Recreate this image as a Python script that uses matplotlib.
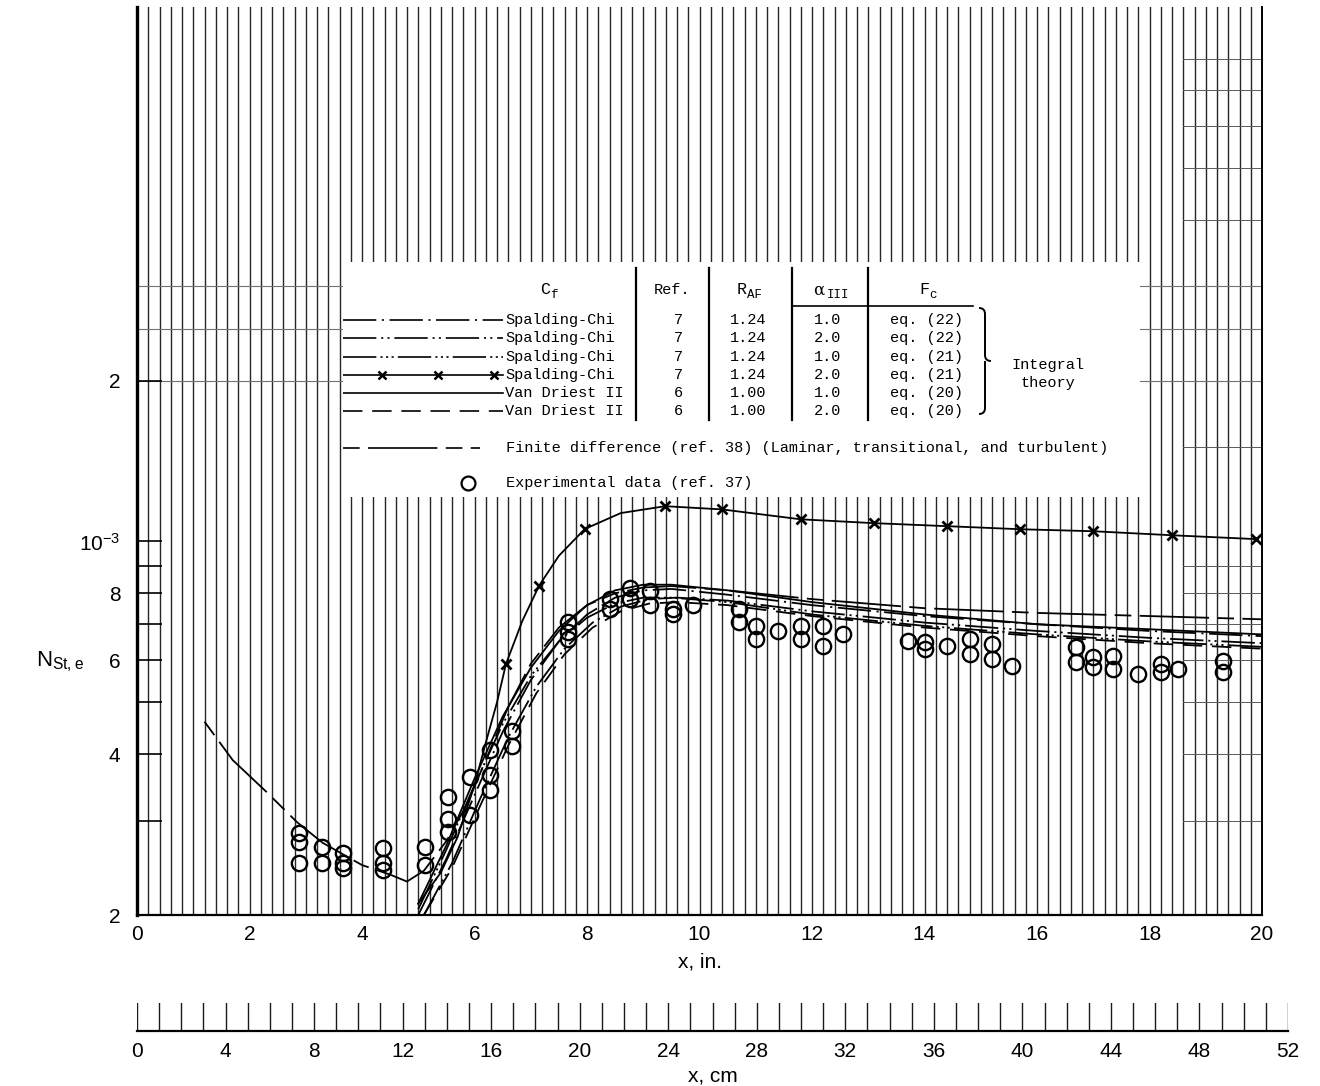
import numpy as np
import matplotlib
matplotlib.use("Agg")
import matplotlib.pyplot as plt
from matplotlib.path import Path
from matplotlib.patches import PathPatch
from matplotlib.ticker import FixedLocator, FixedFormatter, NullFormatter

plt.rcParams['font.family'] = ['Liberation Sans', 'DejaVu Sans']
plt.rcParams['lines.scale_dashes'] = False

# Stanton number vs distance, all values in units of 1e-4
fd_x = [1.2, 1.7, 2.3, 2.85, 3.3, 4.0, 4.5, 4.8, 5.1, 5.5, 5.85, 6.2, 6.6, 7.0, 7.5,
        8.0, 8.5, 9.0, 9.5, 10.5, 12, 14, 16, 18, 20]
fd_y = [4.6, 3.9, 3.4, 2.98, 2.73, 2.48, 2.38, 2.31, 2.42, 2.75, 3.2, 3.9, 4.9, 5.9, 6.9,
        7.6, 8.0, 8.2, 8.25, 8.1, 7.8, 7.5, 7.35, 7.25, 7.15]

sc22a1_x = [5.0, 5.5, 6.0, 6.5, 7.0, 7.5, 8.0, 8.5, 9.0, 9.5, 10.5, 12, 14, 16, 18, 20]
sc22a1_y = [2.0, 2.55, 3.35, 4.4, 5.5, 6.5, 7.3, 7.85, 8.1, 8.15, 7.95, 7.6, 7.25, 7.0, 6.8, 6.65]

sc22a2_x = [5.1, 5.6, 6.1, 6.6, 7.1, 7.6, 8.1, 8.6, 9.1, 9.6, 10.5, 12, 14, 16, 18, 20]
sc22a2_y = [2.0, 2.5, 3.3, 4.3, 5.35, 6.3, 7.05, 7.55, 7.8, 7.85, 7.75, 7.4, 7.05, 6.8, 6.6, 6.45]

sc21a1_x = [5.0, 5.5, 6.0, 6.5, 7.0, 7.5, 8.0, 8.5, 9.0, 9.5, 10.5, 12, 14, 16, 18, 20]
sc21a1_y = [2.05, 2.65, 3.5, 4.55, 5.6, 6.5, 7.2, 7.65, 7.85, 7.85, 7.7, 7.3, 6.95, 6.7, 6.5, 6.35]

sc21a2_x = [5.0, 5.4, 5.7, 6.0, 6.2, 6.4, 6.56, 6.85, 7.15, 7.5, 7.96, 8.6, 9.39, 10.4, 11.8,
            13.1, 14.4, 15.7, 17.0, 18.4, 19.9]
sc21a2_y = [2.1, 2.4, 2.8, 3.5, 4.2, 5.0, 5.9, 7.1, 8.27, 9.4, 10.55, 11.3, 11.64, 11.48, 11.0,
            10.82, 10.68, 10.54, 10.45, 10.27, 10.1]
sc21a2_marks = [6, 8, 10, 12, 13, 14, 15, 16, 17, 18, 19, 20]

vd1_x = [5.0, 5.5, 6.0, 6.5, 7.0, 7.5, 8.0, 8.5, 9.0, 9.5, 10.5, 12, 14, 16, 18, 20]
vd1_y = [2.1, 2.7, 3.6, 4.7, 5.8, 6.8, 7.6, 8.1, 8.3, 8.3, 8.1, 7.7, 7.3, 7.0, 6.85, 6.7]

vd2_x = [5.1, 5.6, 6.1, 6.6, 7.1, 7.6, 8.1, 8.6, 9.1, 9.6, 10.5, 12, 14, 16, 18, 20]
vd2_y = [2.0, 2.45, 3.2, 4.15, 5.2, 6.15, 6.9, 7.4, 7.65, 7.7, 7.6, 7.25, 6.9, 6.65, 6.45, 6.3]

exp_x = [2.88, 2.88, 2.88, 3.29, 3.29, 3.66, 3.66, 3.66, 4.37, 4.37, 4.37, 5.12, 5.12,
         5.53, 5.53, 5.53, 5.92, 5.92, 6.28, 6.28, 6.28, 6.67, 6.67, 7.66, 7.66, 7.66,
         8.41, 8.41, 8.76, 8.76, 9.12, 9.12, 9.53, 9.53, 9.88, 10.7, 10.7, 11.0, 11.0,
         11.4, 11.8, 11.8, 12.2, 12.2, 12.55, 13.7, 14.0, 14.0, 14.4, 14.8, 14.8, 15.2,
         15.2, 15.55, 16.7, 16.7, 17.0, 17.0, 17.35, 17.35, 17.8, 18.2, 18.2, 18.5, 19.3, 19.3]
exp_y = [2.85, 2.74, 2.50, 2.68, 2.50, 2.61, 2.50, 2.45, 2.67, 2.50, 2.43, 2.68, 2.48,
         3.32, 3.02, 2.86, 3.62, 3.08, 4.08, 3.66, 3.43, 4.42, 4.14, 7.06, 6.78, 6.58,
         7.82, 7.49, 8.17, 7.82, 8.06, 7.59, 7.49, 7.33, 7.59, 7.49, 7.08, 6.96, 6.58,
         6.81, 6.96, 6.58, 6.96, 6.38, 6.72, 6.52, 6.49, 6.30, 6.38, 6.58, 6.16, 6.44,
         6.03, 5.85, 6.35, 5.95, 6.08, 5.83, 6.11, 5.78, 5.65, 5.90, 5.70, 5.78, 5.98, 5.70]

y_ticks = [2e-4, 4e-4, 6e-4, 8e-4, 1e-3, 2e-3]
y_labels = ['2', '4', '6', '8', r'$\mathregular{10^{-3}}$', '2']
x_ticks = list(range(0, 21, 2))
cm_ticks = list(range(0, 53, 4))

# legend table rows
cf_names = ['Spalding-Chi'] * 4 + ['Van Driest II'] * 2
refs = ['7', '7', '7', '7', '6', '6']
r_af = ['1.24', '1.24', '1.24', '1.24', '1.00', '1.00']
alpha3 = ['1.0', '2.0', '1.0', '2.0', '1.0', '2.0']
f_c = ['eq. (22)', 'eq. (22)', 'eq. (21)', 'eq. (21)', 'eq. (20)', 'eq. (20)']

dash_dot = (0, (24, 4, 1.5, 4))
dash_2dot = (0, (24, 3.5, 1.5, 3, 1.5, 3.5))
dash_3dot = (0, (24, 3, 1.5, 2.5, 1.5, 2.5, 1.5, 3))
dashed = (0, (14, 7))
fd_style = (0, (12, 6, 50, 6))

W, H = 1320, 1086


def px_rect(l, t, r, b):
    return [l / W, 1 - b / H, (r - l) / W, (b - t) / H]


def e4(v):
    return np.array(v) * 1e-4


fig = plt.figure(figsize=(W / 100, H / 100), dpi=100)
ax = fig.add_axes(px_rect(137, 7, 1262, 915))
ax.set_yscale('log')
ax.set_xlim(0, 20)
ax.set_ylim(2e-4, 1e-2)

# graph paper background
for xv in np.arange(0.2, 20, 0.2):
    ax.axvline(xv, color='k', alpha=0.85, lw=1.0, zorder=0)
for yv in [2e-3, 2.5e-3, 3e-3]:
    ax.axhline(yv, color='0.45', lw=0.8, zorder=0)
for yv in [3e-4, 4e-4, 5e-4, 6e-4, 7e-4, 8e-4, 9e-4, 1.5e-3, 4e-3, 5e-3, 6e-3, 7e-3, 8e-3]:
    ax.axhline(yv, xmin=0.93, xmax=1.0, color='0.35', lw=0.7, zorder=0)

lw = 1.3
ax.plot(fd_x, e4(fd_y), color='k', lw=lw, ls=fd_style, zorder=3)
ax.plot(sc22a1_x, e4(sc22a1_y), color='k', lw=lw, ls=dash_dot, zorder=3)
ax.plot(sc22a2_x, e4(sc22a2_y), color='k', lw=lw, ls=dash_2dot, zorder=3)
ax.plot(sc21a1_x, e4(sc21a1_y), color='k', lw=lw, ls=dash_3dot, zorder=3)
ax.plot(sc21a2_x, e4(sc21a2_y), color='k', lw=lw, marker='x', markevery=sc21a2_marks,
        ms=7, mew=2, zorder=3)
ax.plot(vd1_x, e4(vd1_y), color='k', lw=lw, zorder=3)
ax.plot(vd2_x, e4(vd2_y), color='k', lw=lw, ls=dashed, zorder=3)
ax.plot(exp_x, e4(exp_y), 'o', mfc='none', mec='k', ms=11, mew=1.7, zorder=4)

ax.yaxis.set_major_locator(FixedLocator(y_ticks))
ax.yaxis.set_major_formatter(FixedFormatter(y_labels))
ax.yaxis.set_minor_locator(FixedLocator([3e-4, 5e-4, 7e-4, 9e-4]))
ax.yaxis.set_minor_formatter(NullFormatter())
ax.tick_params(axis='y', which='both', direction='in', length=18, width=1.2,
               labelsize=15, pad=12)
ax.set_xticks(x_ticks)
ax.tick_params(axis='x', length=0, labelsize=15, pad=7)
ax.set_xlabel('x, in.', fontsize=15, labelpad=6)
ax.spines['top'].set_visible(False)
ax.spines['left'].set_linewidth(2.4)
ax.spines['bottom'].set_linewidth(1.6)
ax.spines['right'].set_linewidth(1.4)

fig.text(60 / W, 1 - 662 / H, r'$\mathregular{N_{St,e}}$', fontsize=16,
         ha='center', va='center')

# centimetre scale strip
ax2 = fig.add_axes(px_rect(137, 1003, 1288, 1031))
ax2.set_xlim(0, 52)
ax2.set_ylim(0, 1)
for xv in range(0, 53):
    ax2.axvline(xv, color='0.1', lw=1.0)
for s in ['top', 'left', 'right']:
    ax2.spines[s].set_visible(False)
ax2.spines['bottom'].set_linewidth(1.6)
ax2.set_yticks([])
ax2.set_xticks(cm_ticks)
ax2.tick_params(axis='x', length=0, labelsize=15, pad=8)
ax2.set_xlabel('x, cm', fontsize=15, labelpad=4)

# legend table
mono = ['Liberation Mono', 'DejaVu Sans Mono']
lg = fig.add_axes(px_rect(343, 262, 1140, 497), zorder=5)
lg.set_xlim(343, 1140)
lg.set_ylim(497, 262)
lg.set_facecolor('white')
lg.set_xticks([])
lg.set_yticks([])
for s in lg.spines.values():
    s.set_visible(False)

fs = 11


def header(xc, main, sub, w_main=9.2, family=mono):
    # main symbol with a lowered, smaller subscript
    w_sub = 7.0 * len(sub)
    x0 = xc - (w_main + w_sub) / 2
    lg.text(x0, 290, main, family=family, fontsize=fs + 1, va='center')
    lg.text(x0 + w_main + 1, 295, sub, family=mono, fontsize=fs - 2, va='center')


header(548, 'C', 'f')
lg.text(672, 290, 'Ref.', family=mono, fontsize=fs, ha='center', va='center')
header(748, 'R', 'AF')
header(830, 'α', 'III', w_main=12.5, family=['DejaVu Serif'])
header(927, 'F', 'c')
for xs in [636, 709, 792, 868]:
    lg.plot([xs, xs], [268, 420], color='k', lw=1.6)
lg.plot([792, 973], [306, 306], color='k', lw=1.2)

rows_y = [320, 338, 357, 375, 393, 411]
styles = [dash_dot, dash_2dot, dash_3dot, '-', '-', dashed]
for i, ry in enumerate(rows_y):
    if i == 3:
        lg.plot([343, 503], [ry, ry], color='k', lw=1.2)
        lg.plot([382, 438, 494], [ry] * 3, 'x', color='k', ms=6, mew=1.8)
    else:
        lg.plot([343, 503], [ry, ry], color='k', lw=1.2, ls=styles[i])
    lg.text(505, ry, cf_names[i], family=mono, fontsize=fs, va='center')
    lg.text(678, ry, refs[i], family=mono, fontsize=fs, ha='center', va='center')
    lg.text(748, ry, r_af[i], family=mono, fontsize=fs, ha='center', va='center')
    lg.text(828, ry, alpha3[i], family=mono, fontsize=fs, ha='center', va='center')
    lg.text(927, ry, f_c[i], family=mono, fontsize=fs, ha='center', va='center')

# curly brace grouping the integral-theory rows
bx, by0, by1, bw = 979, 308, 414, 12
bm = (by0 + by1) / 2
r = 6
verts = [(bx, by0), (bx + bw / 2, by0), (bx + bw / 2, by0 + r), (bx + bw / 2, bm - r),
         (bx + bw / 2, bm), (bx + bw, bm),
         (bx + bw / 2, bm), (bx + bw / 2, bm + r), (bx + bw / 2, by1 - r),
         (bx + bw / 2, by1), (bx, by1)]
codes = [Path.MOVETO, Path.CURVE3, Path.CURVE3, Path.LINETO, Path.CURVE3, Path.CURVE3,
         Path.MOVETO, Path.CURVE3, Path.LINETO, Path.CURVE3, Path.CURVE3]
lg.add_patch(PathPatch(Path(verts, codes), fill=False, lw=1.4, color='k'))
lg.text(1048, 365, 'Integral', family=mono, fontsize=fs, ha='center', va='center')
lg.text(1048, 383, 'theory', family=mono, fontsize=fs, ha='center', va='center')

lg.plot([343, 480], [448, 448], color='k', lw=1.2, ls=fd_style)
lg.text(506, 448, 'Finite difference (ref. 38) (Laminar, transitional, and turbulent)',
        family=mono, fontsize=fs, va='center')
lg.plot([468], [483], 'o', mfc='none', mec='k', ms=10, mew=1.6)
lg.text(506, 483, 'Experimental data (ref. 37)', family=mono, fontsize=fs, va='center')

fig.savefig('out.png', dpi=100)
